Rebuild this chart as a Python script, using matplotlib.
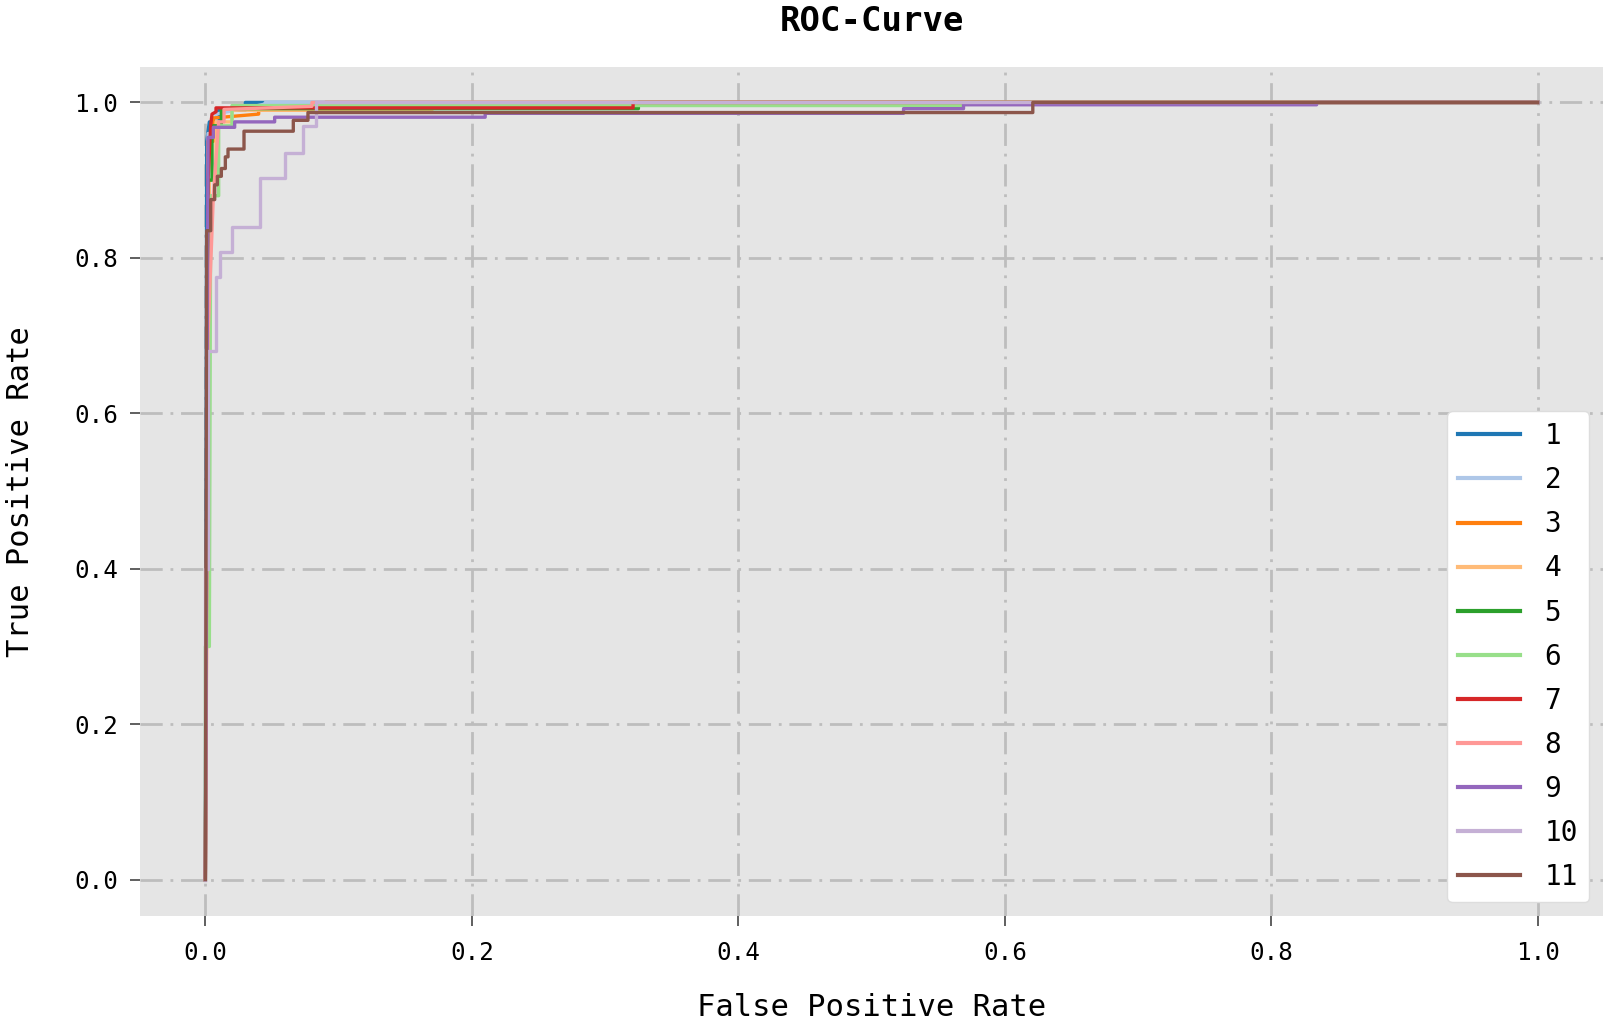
import matplotlib
matplotlib.use("Agg")
import matplotlib.pyplot as plt

# ROC corner points per class
labels = [str(i) for i in range(1, 12)]

fpr_1 = [0, 0.001, 0.003, 0.010, 0.010, 0.030, 0.030, 1.0]
tpr_1 = [0, 0.950, 0.975, 0.975, 0.990, 0.990, 1.000, 1.0]

fpr_2 = [0, 0.002, 0.008, 0.008, 0.045, 0.045, 1.0]
tpr_2 = [0, 0.960, 0.960, 0.985, 0.998, 1.000, 1.0]

fpr_3 = [0, 0.002, 0.006, 0.006, 0.040, 0.040, 0.090, 0.090, 1.0]
tpr_3 = [0, 0.950, 0.950, 0.980, 0.985, 0.990, 0.990, 1.000, 1.0]

fpr_4 = [0, 0.003, 0.008, 0.008, 0.020, 0.020, 0.170, 0.170, 1.0]
tpr_4 = [0, 0.900, 0.900, 0.975, 0.975, 0.990, 0.990, 1.000, 1.0]

fpr_5 = [0, 0.002, 0.005, 0.005, 0.012, 0.012, 0.325, 0.325, 1.0]
tpr_5 = [0, 0.900, 0.900, 0.970, 0.970, 0.992, 0.992, 1.000, 1.0]

fpr_6 = [0, 0.000, 0.003, 0.004, 0.010, 0.010, 0.020, 0.020, 0.569, 0.569, 1.0]
tpr_6 = [0, 0.300, 0.300, 0.880, 0.880, 0.970, 0.970, 0.996, 0.996, 1.000, 1.0]

fpr_7 = [0, 0.002, 0.004, 0.005, 0.008, 0.008, 0.321, 0.321, 1.0]
tpr_7 = [0, 0.900, 0.970, 0.985, 0.988, 0.993, 0.993, 1.000, 1.0]

fpr_8 = [0, 0.002, 0.006, 0.010, 0.014, 0.014, 0.080, 0.080, 1.0]
tpr_8 = [0, 0.700, 0.880, 0.975, 0.975, 0.991, 0.995, 1.000, 1.0]

fpr_9 = [0, 0.002, 0.006, 0.006, 0.022, 0.022, 0.052, 0.052, 0.210, 0.210,
         0.524, 0.524, 0.569, 0.569, 0.834, 0.834, 1.0]
tpr_9 = [0, 0.955, 0.955, 0.968, 0.968, 0.975, 0.975, 0.981, 0.981, 0.986,
         0.986, 0.992, 0.992, 0.997, 0.997, 1.000, 1.0]

fpr_10 = [0, 0.000, 0.002, 0.002, 0.008, 0.008, 0.011, 0.011, 0.020, 0.020,
          0.041, 0.041, 0.060, 0.060, 0.073, 0.073, 0.083, 0.083, 1.0]
tpr_10 = [0, 0.400, 0.400, 0.680, 0.680, 0.775, 0.775, 0.808, 0.808, 0.840,
          0.840, 0.903, 0.903, 0.935, 0.935, 0.970, 0.970, 1.000, 1.0]

fpr_11 = [0, 0.001, 0.004, 0.004, 0.007, 0.007, 0.009, 0.009, 0.012, 0.012,
          0.015, 0.015, 0.017, 0.017, 0.029, 0.029, 0.066, 0.066, 0.077, 0.077,
          0.621, 0.621, 1.0]
tpr_11 = [0, 0.835, 0.835, 0.875, 0.875, 0.894, 0.894, 0.905, 0.905, 0.915,
          0.915, 0.930, 0.930, 0.940, 0.940, 0.963, 0.963, 0.977, 0.977, 0.987,
          0.987, 1.000, 1.0]

fprs = [fpr_1, fpr_2, fpr_3, fpr_4, fpr_5, fpr_6, fpr_7, fpr_8, fpr_9, fpr_10, fpr_11]
tprs = [tpr_1, tpr_2, tpr_3, tpr_4, tpr_5, tpr_6, tpr_7, tpr_8, tpr_9, tpr_10, tpr_11]

colors = plt.get_cmap("tab20").colors

plt.rcParams['font.family'] = ['DejaVu Sans Mono', 'DejaVu Sans']

fig = plt.figure(figsize=(16.1, 10.26), dpi=100)
ax = fig.add_axes([0.087, 0.107, 0.9087, 0.828])
ax.set_facecolor('#e5e5e5')
for s in ax.spines.values():
    s.set_visible(False)

for i, (x, y) in enumerate(zip(fprs, tprs)):
    ax.plot(x, y, color=colors[i], lw=2.4, label=labels[i])

ax.grid(True, color='#bdbdbd', lw=2, ls=(0, (8, 2.8, 1, 2.8)))
ax.set_axisbelow(True)
ax.set_xlim(-0.049, 1.049)
ax.set_ylim(-0.047, 1.046)
ax.set_xticks([0, 0.2, 0.4, 0.6, 0.8, 1.0])
ax.set_yticks([0, 0.2, 0.4, 0.6, 0.8, 1.0])
ax.tick_params(labelsize=17.5, length=7, width=1.2, color='#444444', pad=9)
ax.tick_params(axis='x', pad=11)

ax.set_xlabel("False Positive Rate", fontsize=22, labelpad=20)
ax.set_ylabel("True Positive Rate", fontsize=22, labelpad=28)
ax.set_title("ROC-Curve", fontsize=24.5, fontweight='bold', pad=26)

leg = ax.legend(loc='lower right', fontsize=20, labelspacing=0.58,
                handlelength=2.2, handletextpad=0.9, framealpha=1,
                facecolor='white', edgecolor='#dddddd', borderaxespad=0.5)
for h in leg.get_lines():
    h.set_linewidth(3)

fig.savefig("out.png", dpi=100)
